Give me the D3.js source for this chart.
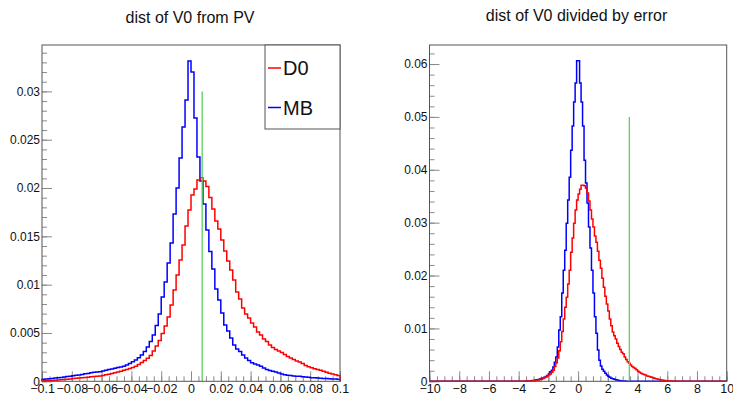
<!DOCTYPE html>
<html>
<head>
<meta charset="utf-8">
<script src="https://cdn.jsdelivr.net/npm/d3@7"></script>
<style>
  body { margin: 0; background: #fff; }
  svg { display: block; font-family: "Liberation Sans", Arial, Helvetica, sans-serif; }
</style>
</head>
<body>
<div id="chart"></div>
<script>
// ---- data ----
// left: distance of V0 from PV, 100 bins of 0.002 from -0.1
const distLo = -0.1, distBinW = 0.002;
const mbDist = [
  0.00021,0.00024,0.00026,0.00030,0.00033,0.00036,0.00040,0.00045,0.00049,0.00053,
  0.00057,0.00062,0.00066,0.00071,0.00077,0.00082,0.00088,0.00093,0.00097,0.00100,
  0.00107,0.00114,0.00121,0.00128,0.00136,0.00143,0.00149,0.00155,0.00169,0.00184,
  0.00202,0.00220,0.00244,0.00272,0.00308,0.00355,0.00412,0.00479,0.00578,0.00697,
  0.00872,0.01028,0.01224,0.01431,0.01732,0.02001,0.02311,0.02632,0.02911,0.03315,
  0.03201,0.02725,0.02321,0.02073,0.01835,0.01566,0.01343,0.01162,0.00955,0.00841,
  0.00707,0.00583,0.00521,0.00448,0.00376,0.00334,0.00308,0.00272,0.00241,0.00215,
  0.00191,0.00179,0.00169,0.00156,0.00138,0.00122,0.00112,0.00105,0.00096,0.00086,
  0.00076,0.00067,0.00063,0.00059,0.00056,0.00053,0.00051,0.00048,0.00045,0.00041,
  0.00038,0.00036,0.00034,0.00032,0.00030,0.00028,0.00026,0.00024,0.00023,0.00021
];
const d0Dist = [
  0.00006,0.00007,0.00008,0.00009,0.00011,0.00013,0.00016,0.00019,0.00022,0.00025,
  0.00028,0.00031,0.00034,0.00037,0.00040,0.00043,0.00047,0.00050,0.00053,0.00056,
  0.00061,0.00067,0.00073,0.00081,0.00088,0.00096,0.00105,0.00114,0.00123,0.00132,
  0.00143,0.00156,0.00174,0.00195,0.00215,0.00238,0.00267,0.00314,0.00365,0.00422,
  0.00495,0.00572,0.00666,0.00790,0.00945,0.01100,0.01255,0.01411,0.01607,0.01773,
  0.01928,0.01990,0.02083,0.02107,0.02073,0.02016,0.01902,0.01783,0.01659,0.01576,
  0.01462,0.01349,0.01245,0.01152,0.01048,0.00924,0.00852,0.00759,0.00697,0.00655,
  0.00603,0.00562,0.00510,0.00479,0.00438,0.00412,0.00376,0.00350,0.00329,0.00314,
  0.00298,0.00277,0.00257,0.00241,0.00226,0.00210,0.00200,0.00184,0.00164,0.00151,
  0.00141,0.00130,0.00121,0.00114,0.00105,0.00093,0.00083,0.00076,0.00067,0.00060
];

// right: distance divided by error, bins of 0.1 starting at -4.5 (empty elsewhere in -10..10)
const sigLo = -4.5, sigBinW = 0.1;
const mbSig = [
  0,0,0,0,0,0,0.00001,0.00001,0.00002,0.00003,
  0.00004,0.00006,0.00008,0.00009,0.00013,0.00017,0.00023,0.00028,0.00034,0.00042,
  0.00051,0.00062,0.00076,0.00091,0.0011,0.0014,0.0018,0.0021,0.0027,0.0036,
  0.0046,0.0065,0.0097,0.0122,0.0167,0.0210,0.0248,0.0299,0.0343,0.0386,
  0.0437,0.0483,0.0528,0.0564,0.0606,0.0606,0.0564,0.0528,0.0483,0.0418,
  0.0375,0.0337,0.0292,0.0252,0.0210,0.0167,0.0122,0.0091,0.0059,0.0040,
  0.0029,0.0023,0.0019,0.0015,0.0012,0.00095,0.00076,0.00060,0.00047,0.00038,
  0.00030,0.00023,0.00017,0.00011,0.00008,0.00006,0.00004,0.00002
];
const d0Sig = [
  0,0,0,0,0,0.00001,0.00001,0.00002,0.00002,0.00004,
  0.00005,0.00006,0.00007,0.00008,0.00009,0.00011,0.00015,0.00021,0.00026,0.00032,
  0.00038,0.00051,0.00066,0.00081,0.0010,0.0012,0.0014,0.0017,0.0021,0.0028,
  0.0035,0.0044,0.0058,0.0075,0.0094,0.0118,0.0140,0.0159,0.0184,0.0210,
  0.0244,0.0271,0.0299,0.0324,0.0343,0.0354,0.0363,0.0371,0.0371,0.0370,
  0.0365,0.0356,0.0341,0.0324,0.0307,0.0292,0.0275,0.0263,0.0246,0.0229,
  0.0214,0.0195,0.0178,0.0161,0.0146,0.0133,0.0118,0.0105,0.0093,0.0086,
  0.0080,0.0072,0.0066,0.0060,0.0055,0.0052,0.0046,0.0041,0.0037,0.0034,
  0.0031,0.0028,0.0026,0.0024,0.0022,0.0019,0.0017,0.0015,0.0014,0.0013,
  0.0012,0.0010,0.00095,0.00085,0.00076,0.00066,0.00057,0.00049,0.00043,0.00036,
  0.00030,0.00025,0.00019,0.00015,0.00011,0.00009,0.00008,0.00007,0.00006,0.00005,
  0.00004,0.00002,0.00002,0.00001,0.00001
];

// cut lines (x position, top of line)
const distCut = [0.0075, 0.03];
const sigCut = [3.45, 0.05];

const distXTicks = [-0.1,-0.08,-0.06,-0.04,-0.02,0,0.02,0.04,0.06,0.08,0.1];
const distYTicks = [0,0.005,0.01,0.015,0.02,0.025,0.03];
const sigXTicks = [-10,-8,-6,-4,-2,0,2,4,6,8,10];
const sigYTicks = [0,0.01,0.02,0.03,0.04,0.05,0.06];

const legendNames = ["D0", "MB"];
const colors = { D0: "#ff0000", MB: "#0000ff" };

// ---- drawing ----
const width = 733, height = 397;
const svg = d3.select("#chart").append("svg")
  .attr("width", width)
  .attr("height", height);

const fmt = d3.format("~g");

function drawPanel(o) {
  const x = d3.scaleLinear().domain(o.xDomain).range([o.left, o.right]);
  const y = d3.scaleLinear().domain(o.yDomain).range([o.bottom, o.top]);
  const g = svg.append("g");

  g.append("text")
    .attr("x", o.titleX).attr("y", o.titleY)
    .attr("text-anchor", "middle")
    .attr("font-size", 16)
    .attr("fill", "#111")
    .text(o.title);

  // minor + major ticks, drawn inside the frame like ROOT does
  const minorX = d3.range(o.xDomain[0], o.xDomain[1] + o.xMinor / 2, o.xMinor);
  const minorY = d3.range(0, o.yDomain[1], o.yMinor);

  const xMin = g.append("g").attr("transform", "translate(0," + o.bottom + ")")
    .call(d3.axisBottom(x).tickValues(minorX).tickSize(-5).tickFormat(""));
  const xMaj = g.append("g").attr("transform", "translate(0," + o.bottom + ")")
    .call(d3.axisBottom(x).tickValues(o.xTicks).tickSize(-10).tickPadding(2.5).tickFormat(fmt));
  const yMin = g.append("g").attr("transform", "translate(" + o.left + ",0)")
    .call(d3.axisLeft(y).tickValues(minorY).tickSize(-5).tickFormat(""));
  const yMaj = g.append("g").attr("transform", "translate(" + o.left + ",0)")
    .call(d3.axisLeft(y).tickValues(o.yTicks).tickSize(-10).tickPadding(2).tickFormat(fmt));

  [xMin, xMaj, yMin, yMaj].forEach(a => {
    a.select(".domain").remove();
    a.attr("font-family", null).attr("font-size", 12);
    a.selectAll(".tick line").attr("stroke", "#8a8a8a");
    a.selectAll(".tick text").attr("fill", "#111");
  });
  xMaj.attr("font-size", 12.5);

  // histograms: blue first, red over it
  const line = d3.line()
    .x(d => x(d[0]))
    .y(d => y(d[1]))
    .curve(d3.curveStepAfter);

  o.hists.forEach(h => {
    const pts = [[o.xDomain[0], 0]];
    h.values.forEach((v, i) => pts.push([h.lo + i * h.w, v]));
    pts.push([h.lo + h.values.length * h.w, 0]);
    pts.push([o.xDomain[1], 0]);
    g.append("path")
      .attr("d", line(pts))
      .attr("fill", "none")
      .attr("stroke", colors[h.name])
      .attr("stroke-width", 1.5);
  });

  g.append("line")
    .attr("x1", x(o.cut[0])).attr("x2", x(o.cut[0]))
    .attr("y1", y(0)).attr("y2", y(o.cut[1]))
    .attr("stroke", "#5ccf5c")
    .attr("stroke-width", 1.3);

  g.append("rect")
    .attr("x", o.left).attr("y", o.top)
    .attr("width", o.right - o.left).attr("height", o.bottom - o.top)
    .attr("fill", "none")
    .attr("stroke", "#555");

  return g;
}

const left = drawPanel({
  title: "dist of V0 from PV", titleX: 190, titleY: 23,
  left: 42, right: 340, top: 45, bottom: 381.3,
  xDomain: [-0.1, 0.1], yDomain: [0, 0.0348],
  xTicks: distXTicks, yTicks: distYTicks, xMinor: 0.005, yMinor: 0.001,
  hists: [
    { name: "MB", lo: distLo, w: distBinW, values: mbDist },
    { name: "D0", lo: distLo, w: distBinW, values: d0Dist }
  ],
  cut: distCut
});

drawPanel({
  title: "dist of V0 divided by error", titleX: 576.5, titleY: 21,
  left: 429.5, right: 726.7, top: 45, bottom: 381.3,
  xDomain: [-10, 10], yDomain: [0, 0.0636],
  xTicks: sigXTicks, yTicks: sigYTicks, xMinor: 0.5, yMinor: 0.002,
  hists: [
    { name: "MB", lo: sigLo, w: sigBinW, values: mbSig },
    { name: "D0", lo: sigLo, w: sigBinW, values: d0Sig }
  ],
  cut: sigCut
});

// legend box in the top-right corner of the left pad
const legend = left.append("g");
legend.append("rect")
  .attr("x", 265).attr("y", 45)
  .attr("width", 75).attr("height", 84)
  .attr("fill", "#fff")
  .attr("stroke", "#555");

const entry = legend.selectAll("g.entry")
  .data(legendNames)
  .enter().append("g")
  .attr("class", "entry")
  .attr("transform", (d, i) => "translate(268," + (68 + i * 39.5) + ")");

entry.append("line")
  .attr("x1", 0).attr("x2", 13)
  .attr("stroke", d => colors[d])
  .attr("stroke-width", 1.5);

entry.append("text")
  .attr("x", 15)
  .attr("dy", "0.36em")
  .attr("font-size", 20)
  .attr("fill", "#111")
  .text(d => d);
</script>
</body>
</html>
